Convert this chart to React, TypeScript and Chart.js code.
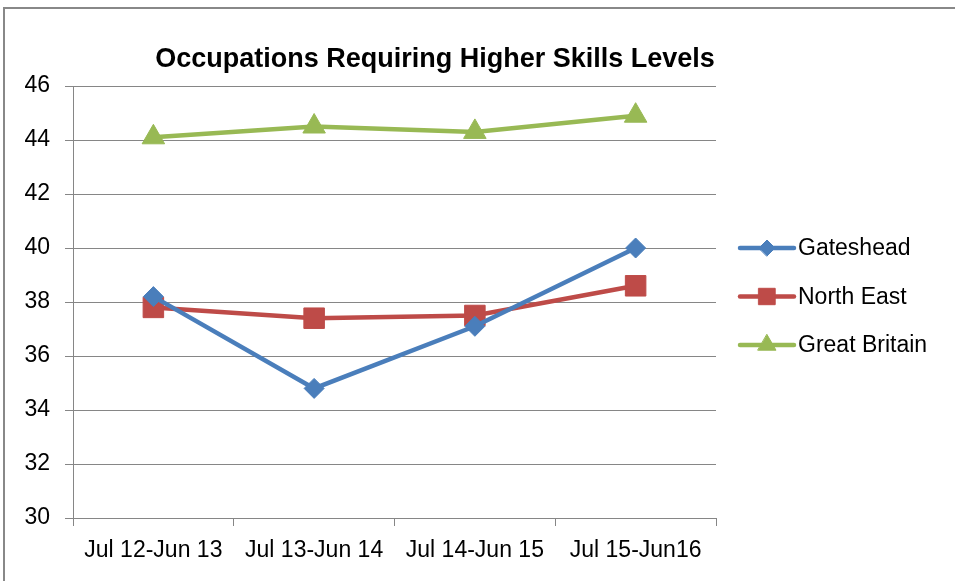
import React, { useEffect, useRef } from "react";
import { Chart, registerables } from "chart.js";
import { drawPoint } from "chart.js/helpers";

Chart.register(...registerables);

const TITLE = "Occupations Requiring Higher Skills Levels";
const categories = ["Jul 12-Jun 13", "Jul 13-Jun 14", "Jul 14-Jun 15", "Jul 15-Jun16"];
const seriesNames = ["Gateshead", "North East", "Great Britain"];
const gateshead = [38.2, 34.8, 37.1, 40.0];
const northEast = [37.8, 37.4, 37.5, 38.6];
const greatBritain = [44.1, 44.5, 44.3, 44.9];
const yMin = 30;
const yMax = 46;
const yStep = 2;

const FONT = '"Liberation Sans", Arial, sans-serif';

const titlePlugin = {
  id: "customTitle",
  afterDraw(chart: any) {
    const ctx = chart.ctx;
    const area = chart.chartArea;
    ctx.save();
    ctx.font = `bold 27px ${FONT}`;
    ctx.fillStyle = "#000";
    ctx.textAlign = "center";
    ctx.textBaseline = "middle";
    ctx.fillText(TITLE, area.left + 362, area.top - 26);
    ctx.restore();
  },
};

const legendPlugin = {
  id: "customLegend",
  afterDraw(chart: any) {
    const ctx = chart.ctx;
    const area = chart.chartArea;
    const x0 = area.right + 24;
    const yScale = chart.scales.y;
    ctx.save();
    chart.data.datasets.forEach((ds: any, i: number) => {
      const y = yScale.getPixelForValue(40) + i * 48.5;
      ctx.strokeStyle = ds.borderColor;
      ctx.lineWidth = ds.borderWidth;
      ctx.lineCap = "round";
      ctx.beginPath();
      ctx.moveTo(x0, y);
      ctx.lineTo(x0 + 54, y);
      ctx.stroke();
      ctx.fillStyle = ds.pointBackgroundColor;
      ctx.strokeStyle = ds.pointBackgroundColor;
      ctx.lineWidth = 1;
      drawPoint(ctx, { pointStyle: ds.pointStyle, radius: ds.pointRadius * 0.8, rotation: 0, borderWidth: 1 }, x0 + 27, y);
      ctx.fillStyle = "#000";
      ctx.font = `23px ${FONT}`;
      ctx.textAlign = "left";
      ctx.textBaseline = "middle";
      ctx.fillText(ds.label, x0 + 58, y + 1);
    });
    ctx.restore();
  },
};

export default function App() {
  const ref = useRef<HTMLCanvasElement>(null);
  useEffect(() => {
    if (!ref.current) return;
    const mk = (label: string, data: number[], color: string, style: string, r: number) => ({
      label,
      data,
      borderColor: color,
      backgroundColor: color,
      pointBackgroundColor: color,
      pointBorderColor: color,
      borderWidth: 4.5,
      pointStyle: style,
      pointRadius: r,
      pointBorderWidth: 1,
      tension: 0,
    });
    const chart = new Chart(ref.current, {
      type: "line",
      data: {
        labels: categories,
        datasets: [
          mk(seriesNames[0], gateshead, "#4A7EBB", "rectRot", 10),
          mk(seriesNames[1], northEast, "#BE4B48", "rect", 14.5),
          mk(seriesNames[2], greatBritain, "#98B954", "triangle", 13),
        ],
      },
      options: {
        animation: false,
        responsive: false,
        devicePixelRatio: 1,
        layout: { padding: { left: 0, top: 86, right: 239, bottom: 0 } },
        plugins: { legend: { display: false }, title: { display: false }, tooltip: { enabled: false } },
        scales: {
          x: {
            offset: true,
            grid: {
              offset: true,
              drawOnChartArea: false,
              drawTicks: true,
              tickLength: 8,
              color: "#868686",
            },
            border: { color: "#868686", width: 1 },
            ticks: {
              autoSkip: false,
              maxRotation: 0,
              color: "#000",
              padding: 11,
              font: { family: FONT, size: 23 },
            },
            afterFit: (s: any) => {
              s.height = 63;
            },
          },
          y: {
            min: yMin,
            max: yMax,
            grid: { color: "#868686", tickLength: 8, drawTicks: true },
            border: { color: "#868686", width: 1 },
            ticks: {
              stepSize: yStep,
              color: "#000",
              padding: 15,
              font: { family: FONT, size: 23 },
            },
            afterFit: (s: any) => {
              s.width = 73;
            },
          },
        },
      },
      plugins: [titlePlugin, legendPlugin],
    } as any);
    return () => chart.destroy();
  }, []);
  return (
    <div style={{ position: "fixed", left: 0, top: 0, width: 955, height: 581, background: "#fff", overflow: "hidden" }}>
      <div
        style={{
          position: "absolute",
          left: 3,
          top: 7,
          width: 1000,
          height: 1000,
          border: "2px solid #888",
          boxSizing: "border-box",
        }}
      />
      <canvas ref={ref} width={955} height={581} style={{ position: "absolute", left: 0, top: 0 }} />
    </div>
  );
}
